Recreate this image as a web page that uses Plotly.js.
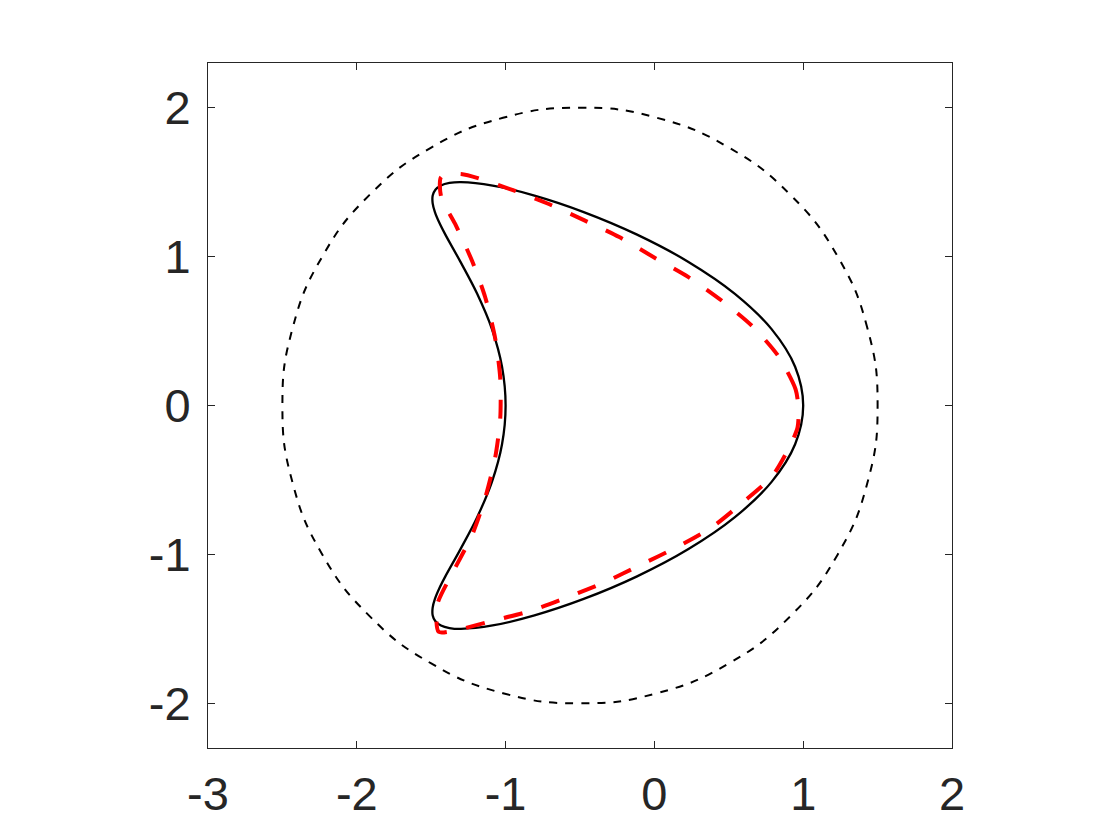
<!DOCTYPE html>
<html>
<head>
<meta charset="utf-8">
<script src="https://cdn.plot.ly/plotly-3.0.1.min.js"></script>
<style>
  body { margin: 0; background: #fff; }
  #plot { width: 1120px; height: 840px; }
</style>
</head>
<body>
<div id="plot"></div>
<script>
/* dotted circle, centre (-0.5, 0), radius 2 */
var circleX = [1.5, 1.4319, 1.2321, 0.9142, 0.5, 0.0176, -0.5, -1.0176, -1.5, -1.9142, -2.2321, -2.4319,
               -2.5, -2.4319, -2.2321, -1.9142, -1.5, -1.0176, -0.5, 0.0176, 0.5, 0.9142, 1.2321, 1.4319, 1.5];
var circleY = [0, 0.5176, 1.0, 1.4142, 1.7321, 1.9319, 2.0, 1.9319, 1.7321, 1.4142, 1.0, 0.5176,
               0, -0.5176, -1.0, -1.4142, -1.7321, -1.9319, -2.0, -1.9319, -1.7321, -1.4142, -1.0, -0.5176, 0];

/* exact boundary (solid black) */
var exactX = [1.0, 0.9456, 0.7876, 0.5410, 0.2289, -0.1201, -0.475, -0.8059, -1.0872, -1.3, -1.3773, -1.4344,
              -1.4717, -1.4899, -1.4904, -1.475, -1.4459, -1.4057, -1.3031, -1.191, -1.0918, -1.024, -1.0,
              -1.024, -1.0918, -1.191, -1.3031, -1.4057, -1.4459, -1.475, -1.4904, -1.4899, -1.4717, -1.4344,
              -1.3773, -1.3, -1.0872, -0.8059, -0.475, -0.1201, 0.2289, 0.5410, 0.7876, 0.9456, 1.0];
var exactY = [0, 0.2605, 0.5130, 0.75, 0.9642, 1.1491, 1.2990, 1.4095, 1.4772, 1.5, 1.4943, 1.4772,
              1.4489, 1.4095, 1.3595, 1.2990, 1.2287, 1.1491, 0.9642, 0.75, 0.5130, 0.2605, 0,
              -0.2605, -0.5130, -0.75, -0.9642, -1.1491, -1.2287, -1.2990, -1.3595, -1.4095, -1.4489, -1.4772,
              -1.4943, -1.5, -1.4772, -1.4095, -1.2990, -1.1491, -0.9642, -0.75, -0.5130, -0.2605, 0];

/* reconstruction (red dashed) */
var reconX = [0.969, 0.949, 0.834, 0.659, 0.458, 0.229, -0.007, -0.236, -0.470, -0.727, -0.976, -1.30,
              -1.433, -1.433, -1.339, -1.225, -1.137, -1.070, -1.036, -1.036, -1.070, -1.137, -1.225, -1.346,
              -1.460, -1.450, -1.360, -1.097, -0.834, -0.579, -0.330, -0.094, 0.155, 0.390, 0.599, 0.794,
              0.915, 0.962, 0.969];
var reconY = [-0.027, 0.108, 0.330, 0.532, 0.700, 0.862, 0.997, 1.131, 1.243, 1.360, 1.455, 1.555,
              1.535, 1.400, 1.219, 0.970, 0.727, 0.451, 0.182, -0.088, -0.350, -0.620, -0.869, -1.104,
              -1.340, -1.520, -1.515, -1.448, -1.380, -1.286, -1.185, -1.071, -0.949, -0.815, -0.646, -0.471,
              -0.263, -0.148, -0.027];

var xTicks = [-3, -2, -1, 0, 1, 2];
var yTicks = [-2, -1, 0, 1, 2];

var axisColor = '#262626';

var traces = [
    {
        x: circleX, y: circleY,
        type: 'scatter', mode: 'lines',
        line: {color: '#000000', width: 2, dash: '8px,8px', shape: 'spline', smoothing: 1.3},
        hoverinfo: 'skip'
    },
    {
        x: exactX, y: exactY,
        type: 'scatter', mode: 'lines',
        line: {color: '#000000', width: 2.3, shape: 'spline', smoothing: 1},
        hoverinfo: 'skip'
    },
    {
        x: reconX, y: reconY,
        type: 'scatter', mode: 'lines',
        line: {color: '#ff0000', width: 4, dash: '19px,20px', shape: 'spline', smoothing: 0.7},
        hoverinfo: 'skip'
    }
];

var layout = {
    width: 1120,
    height: 840,
    showlegend: false,
    paper_bgcolor: '#ffffff',
    plot_bgcolor: '#ffffff',
    margin: {l: 208, r: 168, t: 63, b: 92},
    font: {family: 'Liberation Sans, Arial, sans-serif', color: axisColor, size: 47},
    xaxis: {
        range: [-3, 2],
        tickvals: xTicks,
        ticktext: xTicks.map(String),
        ticks: 'inside', ticklen: 7, tickwidth: 1, tickcolor: axisColor,
        showline: true, linecolor: axisColor, linewidth: 1, mirror: 'ticks',
        showgrid: false, zeroline: false,
        ticklabelstandoff: 5
    },
    yaxis: {
        range: [-2.3, 2.3],
        tickvals: yTicks,
        ticktext: yTicks.map(String),
        ticks: 'inside', ticklen: 7, tickwidth: 1, tickcolor: axisColor,
        showline: true, linecolor: axisColor, linewidth: 1, mirror: 'ticks',
        showgrid: false, zeroline: false,
        ticklabelstandoff: 7
    }
};

Plotly.newPlot('plot', traces, layout, {staticPlot: true, displayModeBar: false});
</script>
</body>
</html>
